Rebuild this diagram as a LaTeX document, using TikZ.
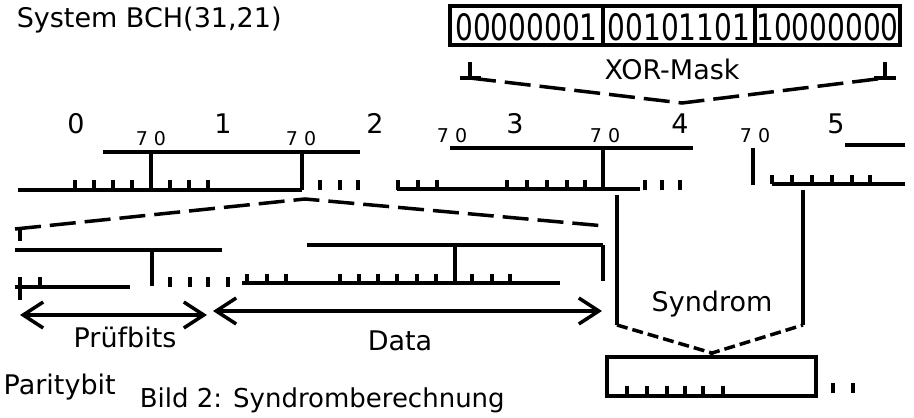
\documentclass[tikz,border=0pt]{standalone}
\usepackage{fontspec}
\setmainfont{DejaVu Sans}
\usepackage{graphicx}
\usetikzlibrary{arrows.meta}

\tikzset{mybarb/.tip={Straight Barb[length=20pt,width=26pt]}}

\begin{document}
\begin{tikzpicture}[x=1pt,y=-1pt,line width=3.5pt,
  txt/.style={inner sep=0pt,font=\fontsize{27}{30}\selectfont},
  captxt/.style={inner sep=0pt,font=\fontsize{26}{30}\selectfont},
  small/.style={inner sep=0pt,font=\fontsize{19}{22}\selectfont,anchor=base},
  digits/.style={inner sep=0pt,font=\fontsize{28}{30}\selectfont},
  longdash/.style={dash pattern=on 26pt off 9pt},
  shortdash/.style={dash pattern=on 11pt off 5pt},
  twoway/.style={mybarb-mybarb},
  tick/.style={line width=3.5pt}]

\fill[white] (0,0) rectangle (914,418);
\useasboundingbox (0,0) rectangle (914,418);

% heading
\node[txt,anchor=base west] (title) at (15,27) {System BCH(31,21)};

% the three mask bytes
\foreach \n/\xa/\xb/\val in {m1/450/603/00000001,m2/603/755/00101101,m3/755/900/10000000}{
  \draw (\xa,6) rectangle (\xb,45);
  \node[digits] (\n) at ({(\xa+\xb)/2},27) {\scalebox{1}[1.3]{\val}};
}

% XOR mask bracket
\coordinate (xl) at (470,78);
\coordinate (xr) at (885,78);
\coordinate (xv) at (682,103);
\draw (470,62) -- (xl);  \draw (460,78) -- (481,78);
\draw (885,62) -- (xr);  \draw (874,78) -- (896,78);
\draw[longdash] (xl) -- (xv) -- (xr);
\node[txt,anchor=base] (xor) at (672,79) {XOR-Mask};

% byte numbers and bit labels
\foreach \n/\x in {0/76,1/223,2/375,3/515,4/680,5/836}
  \node[txt,anchor=base] (b\n) at (\x,133) {\n};
\foreach \i/\x/\y in {1/151/145,2/301/145,3/452/142,4/605/142,5/755/142}
  \node[small] (bl\i) at (\x,\y) {7 0};

% received bytes: frames and base line
\draw (103,152) -- (360,152);
\draw (450,148) -- (693,148);
\draw (845,145) -- (905,145);
\draw (151,152) -- (151,190);
\draw (302,152) -- (302,190);
\draw (603,148) -- (603,190);
\draw (753,148) -- (753,185);
\draw (18,190) -- (302,190);
\draw (397,189) -- (640,189);
\draw (772,184) -- (905,184);
\foreach \x in {75,94,113,132,170,189,208,320,340,358,398,418,437,507,527,547,567,585,645,662,680}
  \draw[tick] (\x,180) -- (\x,190);
\foreach \x in {772,792,812,832,852,870}
  \draw[tick] (\x,175) -- (\x,184);

% shift marker
\draw (20,229) -- (20,241);
\draw[longdash] (15,229) -- (305,199) -- (605,226);

% code word: frames and base line
\draw (15,250) -- (222,250);
\draw (307,245) -- (603,245);
\draw (152,250) -- (152,286);
\draw (455,245) -- (455,283);
\draw (603,245) -- (603,281);
\draw (15,287) -- (130,287);
\draw (242,283) -- (560,283);
\draw[tick] (20,277) -- (20,300);
\foreach \x in {40,170,190,208,228}
  \draw[tick] (\x,277) -- (\x,287);
\foreach \x in {247,267,286,340,359,378,397,417,436,472,492,510}
  \draw[tick] (\x,274) -- (\x,283);

% field arrows
\coordinate (pa) at (20,315);
\coordinate (pb) at (207,315);
\coordinate (da) at (213,311);
\coordinate (db) at (602,311);
\draw[twoway] (pa) -- (pb);
\draw[twoway] (da) -- (db);
\node[txt,anchor=base] (pruef) at (125,347) {Prüfbits};
\node[txt,anchor=base] (data) at (400,350) {Data};

% syndrome
\coordinate (sl) at (617,325);
\coordinate (sr) at (803,325);
\coordinate (sv) at (712,353);
\draw (617,195) -- (sl);
\draw (803,190) -- (sr);
\node[txt,anchor=base] (syndrom) at (712,311) {Syndrom};
\draw[shortdash] (sl) -- (sv) -- (sr);
\node[draw,line width=3.5pt,inner sep=0pt,minimum width=209pt,minimum height=39pt] (syn) at (711.5,376.5) {};
\draw (sv) -- (syn.north);
\foreach \x in {627,647,667,685,703,723}
  \draw[tick] (\x,386) -- (\x,396);
\foreach \x in {833,853}
  \draw[tick] (\x,383) -- (\x,393);

% labels at the bottom
\node[txt,anchor=base west] (parity) at (2,394) {Paritybit};
\node[captxt,anchor=base west] (caption) at (138,407) {Bild 2: Syndromberechnung};
\end{tikzpicture}
\end{document}
